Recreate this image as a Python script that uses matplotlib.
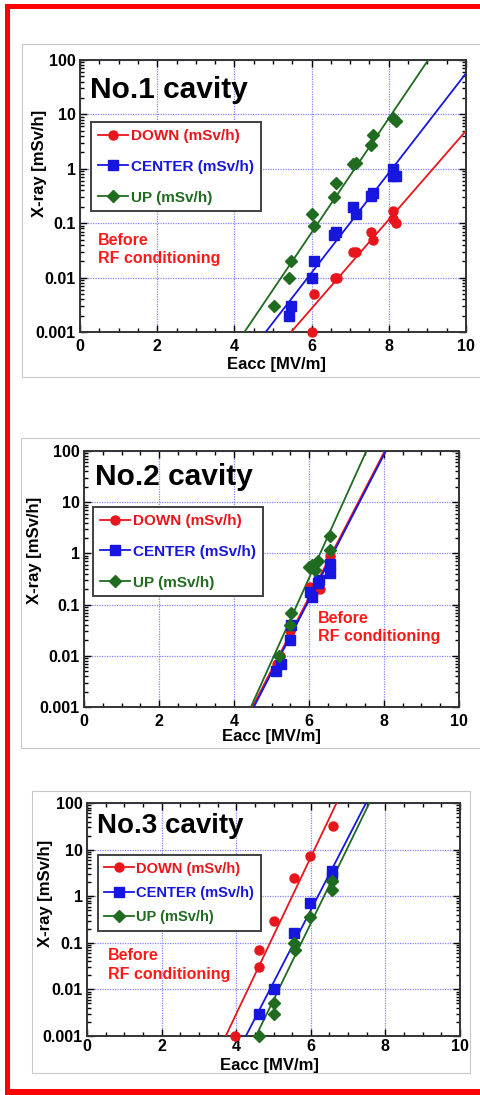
import matplotlib.pyplot as plt
from matplotlib.lines import Line2D
from matplotlib.patches import Rectangle
from matplotlib.ticker import FixedLocator, FixedFormatter, MultipleLocator, LogLocator, NullFormatter

plt.rcParams['font.family'] = ['Liberation Sans', 'DejaVu Sans']
plt.rcParams['font.weight'] = 'bold'

W, H = 481, 1095

RED = '#e8161c'
BLUE = '#1616e0'
GREEN = '#1f6b1f'

series_names = ["DOWN (mSv/h)", "CENTER (mSv/h)", "UP (mSv/h)"]

# No.1 cavity
c1_down_x = [6.0, 6.07, 6.6, 6.66, 7.08, 7.15, 7.55, 7.58, 8.1, 8.12, 8.18]
c1_down_y = [0.001, 0.005, 0.01, 0.01, 0.03, 0.03, 0.07, 0.05, 0.17, 0.12, 0.1]
c1_center_x = [5.42, 5.46, 6.0, 6.07, 6.59, 6.63, 7.08, 7.15, 7.54, 7.6, 8.1, 8.1, 8.19]
c1_center_y = [0.002, 0.003, 0.01, 0.02, 0.06, 0.07, 0.2, 0.15, 0.32, 0.36, 1.0, 0.75, 0.75]
c1_up_x = [5.03, 5.42, 5.46, 6.0, 6.07, 6.59, 6.63, 7.08, 7.16, 7.54, 7.6, 8.1, 8.19]
c1_up_y = [0.003, 0.01, 0.02, 0.15, 0.09, 0.3, 0.55, 1.2, 1.3, 2.7, 4.1, 8.5, 7.7]
c1_fit_down = ([5.47, 10.0], [0.001, 5.0])
c1_fit_center = ([4.81, 10.0], [0.001, 57.0])
c1_fit_up = ([4.26, 9.02], [0.001, 100.0])

# No.2 cavity
c2_down_x = [5.15, 5.22, 5.49, 5.51, 6.02, 6.1, 6.25, 6.29, 6.55, 6.57]
c2_down_y = [0.007, 0.01, 0.03, 0.035, 0.22, 0.17, 0.3, 0.2, 0.87, 0.6]
c2_center_x = [5.13, 5.25, 5.49, 5.51, 6.02, 6.09, 6.24, 6.27, 6.55, 6.55]
c2_center_y = [0.005, 0.007, 0.02, 0.04, 0.18, 0.14, 0.26, 0.3, 0.63, 0.41]
c2_up_x = [5.2, 5.49, 5.51, 6.0, 6.07, 6.15, 6.24, 6.55, 6.55]
c2_up_y = [0.01, 0.04, 0.07, 0.55, 0.6, 0.47, 0.72, 2.2, 1.15]
c2_fit_down = ([4.49, 8.02], [0.001, 100.0])
c2_fit_center = ([4.53, 8.05], [0.001, 100.0])
c2_fit_up = ([4.45, 7.53], [0.001, 100.0])

# No.3 cavity
c3_down_x = [3.96, 4.62, 4.62, 5.01, 5.55, 5.98, 6.6]
c3_down_y = [0.001, 0.03, 0.07, 0.29, 2.4, 7.2, 32.0]
c3_center_x = [4.62, 5.01, 5.55, 5.98, 6.58, 6.58]
c3_center_y = [0.003, 0.01, 0.16, 0.7, 3.4, 2.6]
c3_up_x = [4.62, 5.01, 5.01, 5.55, 5.57, 5.98, 6.58, 6.58]
c3_up_y = [0.001, 0.003, 0.005, 0.1, 0.07, 0.35, 2.1, 1.35]
c3_fit_down = ([3.72, 6.69], [0.001, 100.0])
c3_fit_center = ([4.26, 7.48], [0.001, 100.0])
c3_fit_up = ([4.53, 7.57], [0.001, 100.0])

y_ticks = [0.001, 0.01, 0.1, 1, 10, 100]
y_tick_labels = ["0.001", "0.01", "0.1", "1", "10", "100"]
x_ticks = [0, 2, 4, 6, 8, 10]


def px_rect(left, top, right, bottom):
    return [left / W, 1 - bottom / H, (right - left) / W, (bottom - top) / H]


def draw_cavity(fig, rect, title, data, fits, legend_anchor, label_spacing, leg_fs,
                title_fs, ylabel_pos, xlabel_pos, note_pos, xpad=5):
    ax = fig.add_axes(rect)
    ax.set_yscale('log')
    ax.set_xlim(0, 10)
    ax.set_ylim(0.001, 100)

    colors = [RED, BLUE, GREEN]
    markers = ['o', 's', 'D']
    msizes = [6.5, 7, 6]
    for (x, y), (fx, fy), c, m, ms in zip(data, fits, colors, markers, msizes):
        ax.plot(fx, fy, '-', color=c, lw=1.3, zorder=3)
        ax.plot(x, y, ls='none', marker=m, color=c, ms=ms, mec=c, zorder=4, clip_on=False)

    ax.xaxis.set_major_locator(FixedLocator(x_ticks))
    ax.xaxis.set_minor_locator(MultipleLocator(0.5))
    ax.yaxis.set_major_locator(FixedLocator(y_ticks))
    ax.yaxis.set_major_formatter(FixedFormatter(y_tick_labels))
    ax.yaxis.set_minor_locator(LogLocator(base=10, subs=range(2, 10), numticks=20))
    ax.yaxis.set_minor_formatter(NullFormatter())
    ax.tick_params(which='both', direction='in', top=True, right=True, labelsize=11.5, width=1)
    ax.tick_params(which='major', length=5)
    ax.tick_params(which='minor', length=3)
    ax.tick_params(axis='x', pad=xpad)
    ax.tick_params(axis='y', pad=3)
    for lbl in ax.get_xticklabels() + ax.get_yticklabels():
        lbl.set_fontweight('bold')
    for sp in ax.spines.values():
        sp.set_linewidth(1.4)
        sp.set_color('#333333')

    ax.grid(True, which='major', color='#8484ff', lw=0.9, ls=(0, (1, 1)))
    ax.set_axisbelow(True)

    ax.set_xlabel("Eacc [MV/m]", fontsize=12, fontweight='bold')
    ax.set_ylabel("X-ray [mSv/h]", fontsize=12, fontweight='bold')
    ax.xaxis.set_label_coords(*xlabel_pos)
    ax.xaxis.label.set_va('center')
    ax.yaxis.set_label_coords(*ylabel_pos)
    ax.yaxis.label.set_va('center')

    ax.text(title[1], title[2], title[0], transform=ax.transAxes, fontsize=title_fs,
            fontweight='bold', va='baseline', ha='left', zorder=5)

    ax.text(note_pos[0], note_pos[1], "Before\nRF conditioning", transform=ax.transAxes,
            color='#ff1a1a', fontsize=11.5, fontweight='bold', va='top', ha='left',
            linespacing=1.3, zorder=5)

    handles = [Line2D([], [], color=c, marker=m, ms=ms, lw=1.3)
               for c, m, ms in zip(colors, markers, msizes)]
    leg = ax.legend(handles, series_names, loc='upper left', bbox_to_anchor=legend_anchor,
                    borderaxespad=0, fancybox=False, framealpha=1, edgecolor='#404040',
                    prop={'weight': 'bold', 'size': leg_fs}, handlelength=2.0,
                    handletextpad=0.2, labelspacing=label_spacing, borderpad=0.45)
    leg.get_frame().set_linewidth(1.4)
    for t, c in zip(leg.get_texts(), colors):
        t.set_color(c)
    return ax


fig = plt.figure(figsize=(W / 100, H / 100), dpi=100)
fig.patch.set_facecolor('white')

# light grey frames around the sub-pictures
for l, t, r, b in [(22, 44, 481, 377), (21, 438, 481, 748), (32, 791, 470, 1073)]:
    fig.patches.append(Rectangle((l / W, 1 - b / H), (r - l) / W, (b - t) / H,
                                 transform=fig.transFigure, fill=False,
                                 edgecolor='#c8c8c8', lw=0.8))

draw_cavity(fig, px_rect(80, 60, 466, 332), ("No.1 cavity", 0.026, 0.86),
            [(c1_down_x, c1_down_y), (c1_center_x, c1_center_y), (c1_up_x, c1_up_y)],
            [c1_fit_down, c1_fit_center, c1_fit_up],
            (0.028, 0.772), 1.1, 11, 21.5, (-0.106, 0.62), (0.51, -0.12), (0.047, 0.365))

draw_cavity(fig, px_rect(84, 451, 459, 707), ("No.2 cavity", 0.029, 0.867),
            [(c2_down_x, c2_down_y), (c2_center_x, c2_center_y), (c2_up_x, c2_up_y)],
            [c2_fit_down, c2_fit_center, c2_fit_up],
            (0.024, 0.781), 1.1, 11, 21.5, (-0.133, 0.61), (0.50, -0.117), (0.624, 0.376))

draw_cavity(fig, px_rect(87, 803, 460, 1036), ("No.3 cavity", 0.027, 0.871),
            [(c3_down_x, c3_down_y), (c3_center_x, c3_center_y), (c3_up_x, c3_up_y)],
            [c3_fit_down, c3_fit_center, c3_fit_up],
            (0.029, 0.777), 0.7, 10.5, 20, (-0.11, 0.61), (0.49, -0.128), (0.056, 0.378),
            xpad=2.5)

# red border (top, left, bottom)
for l, t, r, b in [(5, 4, 481, 9), (5, 4, 10, 1095), (5, 1089, 481, 1095)]:
    fig.patches.append(Rectangle((l / W, 1 - b / H), (r - l) / W, (b - t) / H,
                                 transform=fig.transFigure, color='#ff0000', lw=0))

plt.savefig("out.png", dpi=100)
plt.close()
